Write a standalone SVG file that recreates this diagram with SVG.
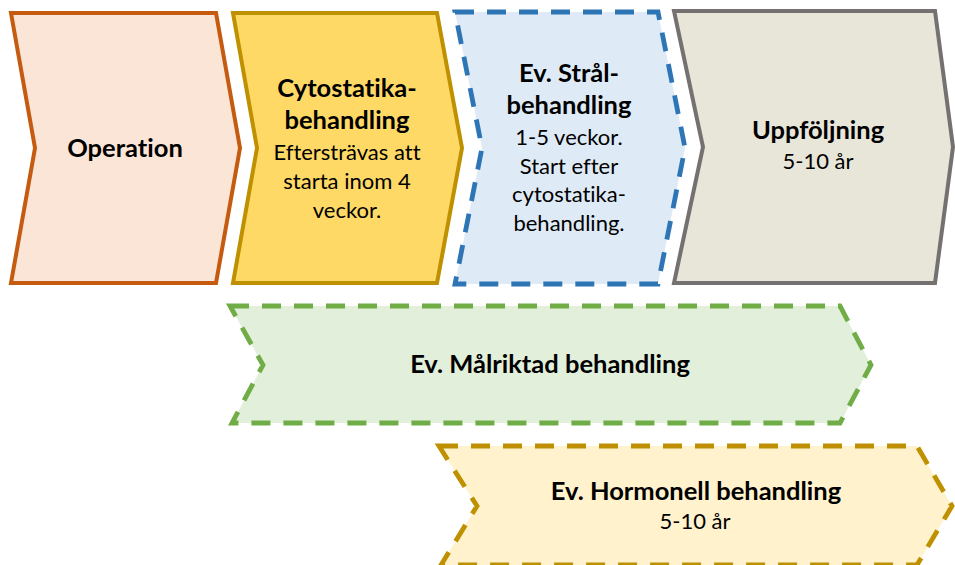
<svg xmlns="http://www.w3.org/2000/svg" width="955" height="565" viewBox="0 0 955 565">
<style>
.t{font-family:Lato,"Open Sans","DejaVu Sans",sans-serif;fill:#000;text-anchor:middle;font-variant-ligatures:none;font-feature-settings:"liga" 0}
.b{font-weight:bold;font-size:25.5px}
.n{font-size:22px}
.solid{stroke-width:4;stroke-linejoin:miter}
.dash{stroke-width:4.8;stroke-dasharray:19 13;stroke-linejoin:miter}
</style>
<rect width="955" height="565" fill="#fff"/>
<g id="connectors"/>
<g id="operation">
<polygon class="solid" points="11,13 216,13 240,148 216,283 11,283 35,148" fill="#FBE5D6" stroke="#C55A11"/>
<text class="t b" x="125" y="157">Operation</text>
</g>
<g id="cytostatika">
<polygon class="solid" points="233,13 437,13 462,148 437,283 233,283 257,148" fill="#FFD966" stroke="#BF9000"/>
<text class="t b" x="347" y="97">Cytostatika-</text>
<text class="t b" x="347" y="129">behandling</text>
<text class="t n" x="347" y="160">Eftersträvas att</text>
<text class="t n" x="347" y="189">starta inom 4</text>
<text class="t n" x="347" y="218">veckor.</text>
</g>
<g id="stralbehandling">
<polygon class="dash" points="455,12 658,12 685,148 658,284 455,284 482,148" fill="#DEEBF7" stroke="#2E75B6"/>
<text class="t b" x="569" y="82">Ev. Strål-</text>
<text class="t b" x="569" y="114">behandling</text>
<text class="t n" x="569" y="145">1-5 veckor.</text>
<text class="t n" x="569" y="174">Start efter</text>
<text class="t n" x="569" y="202">cytostatika-</text>
<text class="t n" x="569" y="231">behandling.</text>
</g>
<g id="uppfoljning">
<polygon class="solid" points="674,11 935,11 953,147 935,283 674,283 703,147" fill="#E8E6D8" stroke="#767171"/>
<text class="t b" x="818" y="139">Uppföljning</text>
<text class="t n" x="818" y="169">5-10 år</text>
</g>
<g id="malriktad">
<polygon class="dash" points="230,306 840,306 871,365 840,423 232,423 263,365" fill="#E2EFDA" stroke="#70AD47"/>
<text class="t b" x="550" y="373">Ev. Målriktad behandling</text>
</g>
<g id="hormonell">
<polygon class="dash" points="439,446 917,446 952,506 917,565 441,565 477,506" fill="#FFF2CC" stroke="#BF9000"/>
<text class="t b" x="696" y="500">Ev. Hormonell behandling</text>
<text class="t n" x="695" y="529">5-10 år</text>
</g>
</svg>
